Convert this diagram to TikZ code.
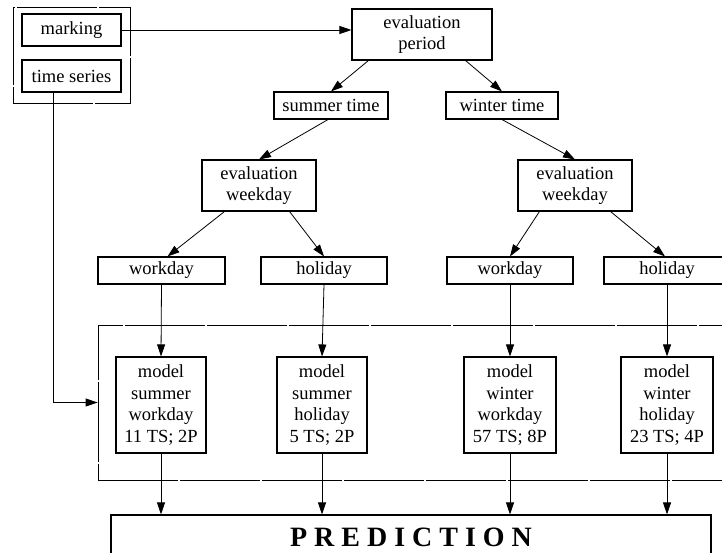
\documentclass[tikz,border=0pt]{standalone}
\usepackage{fontspec}
\setmainfont{Liberation Serif}
\usepackage{tikz}
\usetikzlibrary{arrows.meta}
\usetikzlibrary{calc}

\begin{document}
\begin{tikzpicture}[
    x=1pt, y=-1pt,
    box style/.style={draw, line width=1.1pt, fill=white, inner sep=0pt, align=center,
        font=\fontsize{18.5}{21.5}\selectfont},
    frame style/.style={draw, line width=0.8pt, dash pattern=on 80pt off 2pt, inner sep=0pt},
    edge style/.style={line width=0.8pt, -{Triangle[length=12pt, width=8pt]}}
]
\clip (0,0) rectangle (722,553);
\fill[white] (0,0) rectangle (722,553);

\node[frame style, minimum width=117pt, minimum height=96pt] (in) at (71.5,55) {};
\node[frame style, minimum width=632pt, minimum height=155pt] (mod) at (414,402.5) {};

\node[box style, minimum width=99pt, minimum height=32pt] (mk) at (71.5,30) {marking};
\node[box style, minimum width=99pt, minimum height=32pt] (ts) at (71.5,76) {time series};
\node[box style, minimum width=140pt, minimum height=51pt] (ep) at (422,34.5) {evaluation\\period};
\node[box style, minimum width=114pt, minimum height=27pt] (st) at (331,105.5) {summer time};
\node[box style, minimum width=112pt, minimum height=27pt] (wt) at (502,105.5) {winter time};
\node[box style, minimum width=114pt, minimum height=51pt] (ews) at (259,185.5) {evaluation\\weekday};
\node[box style, minimum width=114pt, minimum height=51pt] (eww) at (575,185.5) {evaluation\\weekday};
\node[box style, minimum width=127pt, minimum height=27pt] (wds) at (161.5,270.5) {workday};
\node[box style, minimum width=126pt, minimum height=27pt] (hds) at (324,270.5) {holiday};
\node[box style, minimum width=126pt, minimum height=27pt] (wdw) at (510,270.5) {workday};
\node[box style, minimum width=126pt, minimum height=27pt] (hdw) at (667,270.5) {holiday};
\node[box style, minimum width=90pt, minimum height=96pt] (msw) at (161,405) {model\\summer\\workday\\11 TS; 2P};
\node[box style, minimum width=90pt, minimum height=96pt] (msh) at (322,405) {model\\summer\\holiday\\5 TS; 2P};
\node[box style, minimum width=92pt, minimum height=96pt] (mww) at (510,405) {model\\winter\\workday\\57 TS; 8P};
\node[box style, minimum width=92pt, minimum height=96pt] (mwh) at (667,405) {model\\winter\\holiday\\23 TS; 4P};
\node[box style, minimum width=600pt, minimum height=44pt] (pr) at (411,537)
    {\fontsize{28}{30}\selectfont\bfseries P R E D I C T I O N};

\draw[edge style] (mk.east) -- (mk.east -| ep.west);
\draw[edge style] ([xshift=-18.5pt]ts.south) |- (mod.west);
\draw[edge style] ([xshift=17pt]ep.south west) -- (st.north);
\draw[edge style] ([xshift=-27pt]ep.south east) -- (wt.north);
\draw[edge style] ([xshift=-3pt]st.south) -- (ews.north);
\draw[edge style] (wt.south) -- (eww.north);
\draw[edge style] ([xshift=23pt]ews.south west) -- ([xshift=6pt]wds.north);
\draw[edge style] ([xshift=-27pt]ews.south east) -- (hds.north);
\draw[edge style] ([xshift=22pt]eww.south west) -- (wdw.north);
\draw[edge style] ([xshift=-22pt]eww.south east) -- ([xshift=-2pt]hdw.north);
\draw[edge style] (wds.south) -- (msw.north);
\draw[edge style] (hds.south) -- (msh.north);
\draw[edge style] (wdw.south) -- (mww.north);
\draw[edge style] (hdw.south) -- (mwh.north);
\draw[edge style] (msw.south) -- (msw.south |- pr.north);
\draw[edge style] (msh.south) -- (msh.south |- pr.north);
\draw[edge style] (mww.south) -- (mww.south |- pr.north);
\draw[edge style] (mwh.south) -- (mwh.south |- pr.north);
\end{tikzpicture}
\end{document}
